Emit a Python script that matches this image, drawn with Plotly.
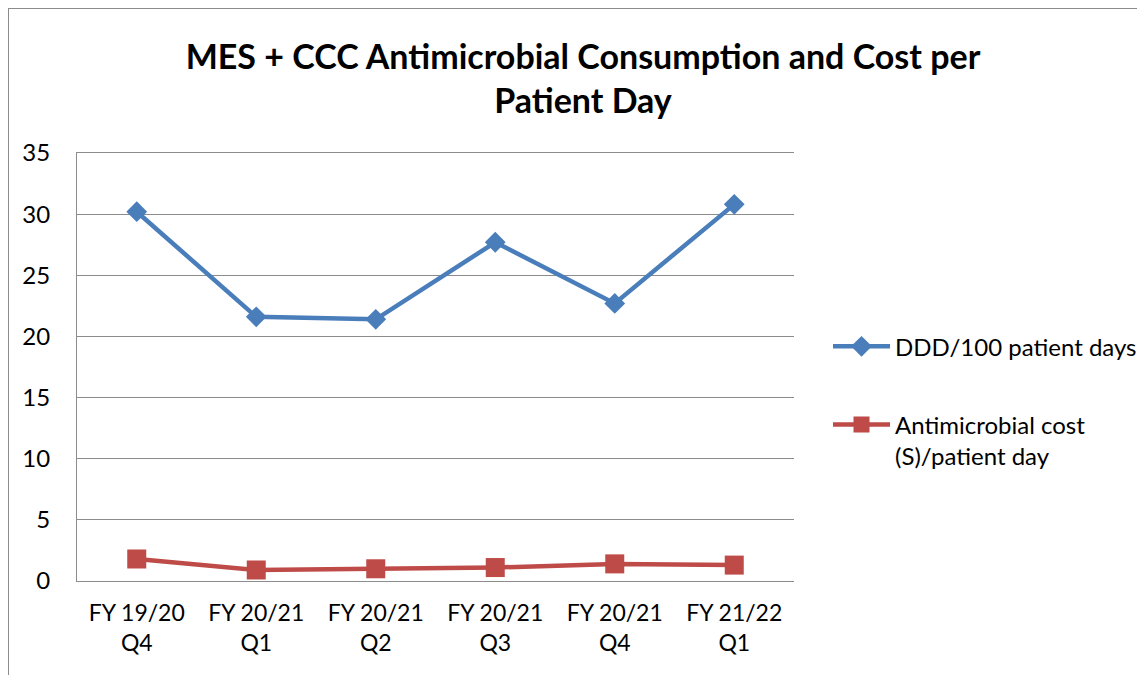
import plotly.graph_objects as go

categories = ["FY 19/20<br>Q4", "FY 20/21<br>Q1", "FY 20/21<br>Q2", "FY 20/21<br>Q3", "FY 20/21<br>Q4", "FY 21/22<br>Q1"]
ddd_per_100 = [30.2, 21.6, 21.4, 27.7, 22.7, 30.8]
cost_per_day = [1.8, 0.9, 1.0, 1.1, 1.4, 1.3]
series_names = ["DDD/100 patient days", "Antimicrobial cost<br>(S)/patient day"]

FONT = "Lato"
GRID = "#8C8C8C"
fig = go.Figure()
fig.add_trace(go.Scatter(
    x=categories, y=ddd_per_100, name=series_names[0], mode="lines+markers",
    line=dict(color="#4A7EBB", width=4.5),
    marker=dict(symbol="diamond", size=16, color="#4A7EBB"),
    legendgroup="a",
))
fig.add_trace(go.Scatter(
    x=categories, y=cost_per_day, name=series_names[1], mode="lines+markers",
    line=dict(color="#BE4B48", width=4.5),
    marker=dict(symbol="square", size=19, color="#BE4B48"),
    legendgroup="b",
))

L, T, PW, PH = 69, 145, 717, 428
fig.update_layout(
    width=1145, height=675,
    margin=dict(l=L, r=1145 - L - PW, t=T, b=675 - T - PH),
    paper_bgcolor="white", plot_bgcolor="white",
    font=dict(family=FONT, size=24, color="black"),
    title=dict(
        text="<b>MES + CCC Antimicrobial Consumption and Cost per<br>Patient Day</b>",
        x=575 / 1145, xanchor="center", y=1 - 61 / 675, yanchor="middle",
        font=dict(family=FONT, size=34, color="black"),
    ),
    showlegend=True,
    legend=dict(
        x=820 / 1145, xref="container", xanchor="left",
        y=0.60, yanchor="top",
        traceorder="grouped", tracegroupgap=44,
        itemwidth=57, valign="top",
        font=dict(family=FONT, size=24, color="black"),
        bgcolor="rgba(0,0,0,0)",
    ),
)
fig.update_xaxes(
    range=[-0.5, len(categories) - 0.5],
    showgrid=False, showline=True, linecolor=GRID, linewidth=1, mirror=True,
    zeroline=False, ticks="", tickfont=dict(family=FONT, size=23), ticklabelstandoff=11,
)
fig.update_yaxes(
    range=[0, 35], dtick=5, showgrid=True, gridcolor=GRID, gridwidth=1,
    showline=True, linecolor=GRID, linewidth=1, zeroline=False,
    ticks="", tickfont=dict(family=FONT, size=24), ticklabelstandoff=21,
)
# outer chart frame (extends beyond the right and bottom of the picture)
fx = (0 - L) / PW
fy = (T + PH - 0) / PH
fig.add_shape(type="line", xref="paper", yref="paper",
              x0=fx, x1=fx, y0=fy, y1=-0.5,
              line=dict(color=GRID, width=2))
fig.add_shape(type="line", xref="paper", yref="paper",
              x0=fx, x1=1.8, y0=fy, y1=fy,
              line=dict(color=GRID, width=2))

fig.write_html("out.html")
